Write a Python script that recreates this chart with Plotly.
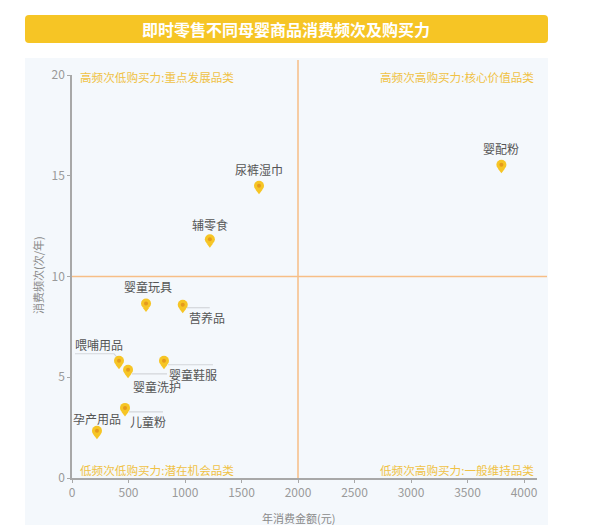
import plotly.graph_objects as go

# ---- data ----
categories = ["婴配粉", "尿裤湿巾", "辅零食", "婴童玩具", "营养品",
              "喂哺用品", "婴童洗护", "婴童鞋服", "儿童粉", "孕产用品"]
spend = [3800, 1655, 1220, 655, 980, 416, 496, 814, 469, 221]       # 年消费金额(元)
freq = [15.55, 14.5, 11.85, 8.66, 8.6, 5.82, 5.37, 5.82, 3.48, 2.34]  # 消费频次(次/年)
x_ticks = [0, 500, 1000, 1500, 2000, 2500, 3000, 3500, 4000]
y_ticks = [0, 5, 10, 15, 20]
x_mid, y_mid = 2000, 10
quadrant_labels = ["高频次低购买力:重点发展品类", "高频次高购买力:核心价值品类",
                   "低频次低购买力:潜在机会品类", "低频次高购买力:一般维持品类"]
title = "即时零售不同母婴商品消费频次及购买力"

# ---- layout constants ----
W, H = 600, 525
ML, MR, MT, MB = 72, 63, 75, 47
XR = [0, 4115]
YR = [0, 20]
PW, PH = W - ML - MR, H - MT - MB
dx = (XR[1] - XR[0]) / PW  # data units per px
dy = (YR[1] - YR[0]) / PH

def px(v):  # paper x from pixel
    return (v - ML) / PW

def py(v):  # paper y from pixel
    return (H - MB - v) / PH

FONT = "Noto Sans CJK SC"
YELLOW = "#F6C525"
ORANGE = "#F7BE86"
GOLD = "#F0C245"

# label offsets (px): xshift, yshift (positive up)
label_off = {
    "婴配粉": (0, 16), "尿裤湿巾": (0, 16), "辅零食": (0, 15), "婴童玩具": (2, 17),
    "营养品": (24, -13), "喂哺用品": (-20, 16), "婴童洗护": (29, -17),
    "婴童鞋服": (29, -14), "儿童粉": (23, -14), "孕产用品": (0, 12),
}
# leader lines in px offsets (x right, y down)
leaders = {
    "营养品": [(4, 3), (27, 3)],
    "喂哺用品": [(-44, -7), (-5, -7), (-1, -2)],
    "婴童洗护": [(4, 4), (39, 4)],
    "婴童鞋服": [(4, 4), (49, 4)],
    "儿童粉": [(4, 4), (38, 4)],
}

fig = go.Figure()

# leader lines
for name, pts in leaders.items():
    i = categories.index(name)
    fig.add_trace(go.Scatter(
        x=[spend[i] + p[0] * dx for p in pts],
        y=[freq[i] - p[1] * dy for p in pts],
        mode="lines", line=dict(color="#D3D6DA", width=1.2),
        hoverinfo="skip", showlegend=False))

# pin tips
fig.add_trace(go.Scatter(
    x=spend, y=[f - 5.5 * dy for f in freq], mode="markers",
    marker=dict(symbol="triangle-down", size=6, color=YELLOW, line=dict(width=0)),
    hoverinfo="skip", showlegend=False))
# pin heads
fig.add_trace(go.Scatter(
    x=spend, y=freq, mode="markers",
    marker=dict(symbol="circle", size=10, color=YELLOW, line=dict(width=0)),
    text=categories, hovertemplate="%{text}<br>%{x}元, %{y}次<extra></extra>",
    showlegend=False))
# pin centers
fig.add_trace(go.Scatter(
    x=spend, y=freq, mode="markers",
    marker=dict(symbol="circle", size=4, color="#E59A1E", line=dict(width=0)),
    hoverinfo="skip", showlegend=False))

annotations = []
for name, xv, yv in zip(categories, spend, freq):
    xs, ys = label_off[name]
    annotations.append(dict(
        x=xv, y=yv, xref="x", yref="y", text=name, showarrow=False,
        xshift=xs, yshift=ys, font=dict(family=FONT, size=12, color="#555555")))

# quadrant labels
qpos = [(px(78), py(77), "left"), (px(536), py(77), "right"),
        (px(78), py(470), "left"), (px(536), py(470), "right")]
for t, (xx, yy, al) in zip(quadrant_labels, qpos):
    annotations.append(dict(
        x=xx, y=yy, xref="paper", yref="paper", text=t, showarrow=False,
        xanchor=al, yanchor="middle", font=dict(family=FONT, size=11.6, color=GOLD)))

# title
annotations.append(dict(
    x=px(286), y=py(29), xref="paper", yref="paper", text="<b>" + title + "</b>",
    showarrow=False, xanchor="center", yanchor="middle",
    font=dict(family=FONT, size=16, color="white")))
# axis titles
annotations.append(dict(
    x=px(298), y=py(518), xref="paper", yref="paper", text="年消费金额(元)",
    showarrow=False, xanchor="center", yanchor="middle",
    font=dict(family=FONT, size=11, color="#8A8A8A")))
annotations.append(dict(
    x=px(38), y=py(275), xref="paper", yref="paper", text="消费频次(次/年)",
    showarrow=False, xanchor="center", yanchor="middle", textangle=-90,
    font=dict(family=FONT, size=11, color="#8A8A8A")))

# rounded banner path (paper coords)
bx0, bx1, by0, by1 = px(25), px(548), py(43), py(15)
rx, ry = 4 / PW, 4 / PH
banner_path = (
    f"M {bx0+rx},{by0} L {bx1-rx},{by0} Q {bx1},{by0} {bx1},{by0+ry} "
    f"L {bx1},{by1-ry} Q {bx1},{by1} {bx1-rx},{by1} "
    f"L {bx0+rx},{by1} Q {bx0},{by1} {bx0},{by1-ry} "
    f"L {bx0},{by0+ry} Q {bx0},{by0} {bx0+rx},{by0} Z"
)

shapes = [
    # panel background
    dict(type="rect", xref="paper", yref="paper", x0=px(25), x1=px(548),
         y0=py(525), y1=py(58), fillcolor="#F4F8FC", line=dict(width=0), layer="below"),
    # title banner
    dict(type="path", xref="paper", yref="paper", path=banner_path,
         fillcolor=YELLOW, line=dict(width=0), layer="below"),
    # quadrant lines
    dict(type="line", xref="x", yref="paper", x0=x_mid, x1=x_mid, y0=0, y1=py(60),
         line=dict(color=ORANGE, width=1.5), layer="below"),
    dict(type="line", xref="paper", yref="y", x0=0, x1=px(547), y0=y_mid, y1=y_mid,
         line=dict(color=ORANGE, width=1.5), layer="below"),
]

fig.update_layout(
    width=W, height=H, margin=dict(l=ML, r=MR, t=MT, b=MB),
    paper_bgcolor="white", plot_bgcolor="rgba(0,0,0,0)",
    font=dict(family=FONT),
    xaxis=dict(range=XR, tickvals=x_ticks, showgrid=False, zeroline=False,
               showline=True, linecolor="#A8A8A8", linewidth=1.5,
               ticks="outside", ticklen=3, tickcolor="#A8A8A8",
               tickfont=dict(family=FONT, size=12, color="#9A9A9A")),
    yaxis=dict(range=YR, tickvals=y_ticks, showgrid=False, zeroline=False,
               showline=True, linecolor="#A8A8A8", linewidth=1.5,
               ticks="outside", ticklen=3, tickcolor="#A8A8A8",
               tickfont=dict(family=FONT, size=12, color="#9A9A9A")),
    annotations=annotations, shapes=shapes,
)

fig.write_html("out.html")
